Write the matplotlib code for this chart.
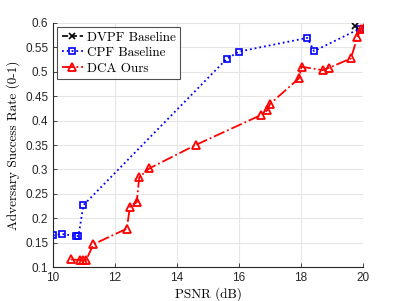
import matplotlib
matplotlib.use("Agg")
import matplotlib.pyplot as plt
import numpy as np

# Data
dvpf_x = [19.74]
dvpf_y = [0.593]

cpf_x = [10.0, 10.28, 10.74, 10.82, 10.98, 15.60, 16.0, 18.2, 18.42, 19.9]
cpf_y = [0.165, 0.168, 0.164, 0.164, 0.227, 0.526, 0.541, 0.569, 0.542, 0.588]

dca_x = [10.57, 10.87, 10.98, 11.07, 11.3, 12.38, 12.48, 12.7, 12.78, 13.1,
         14.6, 16.7, 16.91, 17.0, 17.93, 18.02, 18.7, 18.91, 19.61, 19.82, 19.92, 20.02]
dca_y = [0.116, 0.115, 0.115, 0.115, 0.147, 0.179, 0.224, 0.233, 0.284, 0.302,
         0.350, 0.411, 0.421, 0.434, 0.486, 0.510, 0.503, 0.508, 0.527, 0.571, 0.587, 0.590]

xticks = [10, 12, 14, 16, 18, 20]
yticks = [0.1, 0.15, 0.2, 0.25, 0.3, 0.35, 0.4, 0.45, 0.5, 0.55, 0.6]
ytick_labels = ["0.1", "0.15", "0.2", "0.25", "0.3", "0.35", "0.4", "0.45", "0.5", "0.55", "0.6"]

fig = plt.figure(figsize=(4.02, 3.01), dpi=100)
ax = fig.add_axes([0.132, 0.112, 0.771, 0.8125])

serif = {"family": "cmr10", "size": 9.5}

ax.plot(cpf_x, cpf_y, color="blue", linestyle=":", marker="s", markersize=4.5,
        markerfacecolor="none", markeredgewidth=1.2, linewidth=1.3, label="CPF Baseline", zorder=3)
ax.plot(dca_x, dca_y, color="red", linestyle="-.", marker="^", markersize=5.5,
        markerfacecolor="none", markeredgewidth=1.3, linewidth=1.3, label="DCA Ours", zorder=4)
ax.plot(dvpf_x, dvpf_y, color="black", linestyle="--", marker="x", markersize=4.5,
        markeredgewidth=1.2, linewidth=1.2, label="DVPF Baseline", zorder=5)

ax.set_xlim(10, 20)
ax.set_ylim(0.1, 0.6)
ax.set_xticks(xticks)
ax.set_yticks(yticks)
ax.set_yticklabels(ytick_labels)
ax.grid(True, color="#e6e6e6", linewidth=0.8)
ax.set_axisbelow(True)
for s in ["top", "right"]:
    ax.spines[s].set_visible(False)
for s in ["left", "bottom"]:
    ax.spines[s].set_color("#262626")
    ax.spines[s].set_linewidth(0.8)
ax.tick_params(direction="in", length=3, width=0.6, colors="#262626", labelsize=8.5)
for lbl in ax.get_xticklabels() + ax.get_yticklabels():
    lbl.set_family("Liberation Sans")

ax.set_xlabel("PSNR (dB)", fontdict=serif, labelpad=2)
ax.set_ylabel("Adversary Success Rate (0-1)", fontdict=serif, labelpad=4)

handles, labels = ax.get_legend_handles_labels()
order = [2, 0, 1]
leg = ax.legend([handles[i] for i in order], [labels[i] for i in order],
                loc="upper left", prop={"family": "cmr10", "size": 9.5},
                frameon=True, fancybox=False, edgecolor="#262626",
                handlelength=1.6, handletextpad=0.3, borderpad=0.35,
                labelspacing=0.25, borderaxespad=0.3)
leg.get_frame().set_linewidth(0.8)

fig.savefig("out.png", dpi=100)
